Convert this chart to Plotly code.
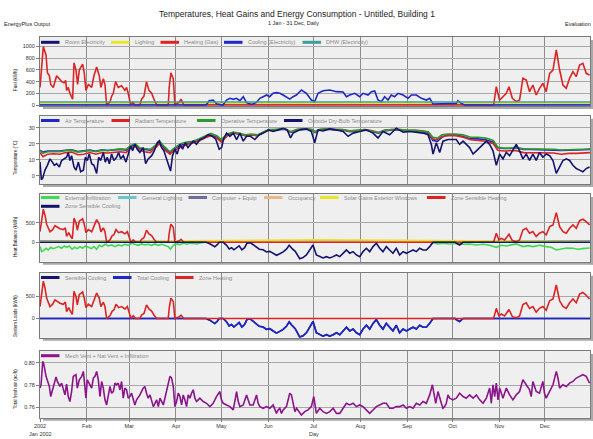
import plotly.graph_objects as go

# ---------------- DATA ----------------
MONTH_START_DAY = [0, 31, 59, 90, 120, 151, 181, 212, 243, 273, 304, 334]
MONTH_LABELS = ["2002", "Feb", "Mar", "Apr", "May", "Jun", "Jul", "Aug", "Sep", "Oct", "Nov", "Dec"]

# (day of year, value) pairs
HEATING_GAS = [(0,300),(2.2,1000),(4,850),(4.9,550),(6.2,500),(7.1,350),(8.8,300),(9.9,400),(11,500),(12.8,450),
               (14.3,400),(15.9,380),(17,420),(17.6,250),(18.7,300),(19.8,200),(20.9,150),(21.6,100),(22.5,720),
               (23.8,600),(24.9,350),(26,600),(28.2,700),(29.3,550),(30.4,250),(32,350),(34.2,300),(35.7,500),
               (37.5,650),(39.2,500),(40.3,300),(41.9,450),(43,350),(44.1,0),(46.3,50),(47.4,150),(48.5,200),
               (50,400),(51.8,300),(54,330),(56.2,250),(57.3,300),(58.4,200),(60,0),(61.3,50),(62.8,0),(66.1,0),
               (67.2,100),(68.8,150),(70.5,400),(72.1,250),(73.9,200),(75.4,100),(77.2,0),(84.9,0),(85.5,300),
               (86.6,550),(88.2,450),(89.3,0),(92.2,50),(93.3,100),(94.4,50),(95.2,0),(300.2,0),(302,313),
               (304.2,80),(306.4,142),(308.6,200),(310.4,313),(312.6,114),(315.2,57),(317.4,85),(319.6,456),
               (321.8,427),(324,228),(326.2,342),(328.4,171),(330.6,285),(332.8,370),(335,228),(337.3,541),
               (339.5,598),(341.7,940),(343.9,598),(346.1,342),(348.3,285),(350.5,456),(352.7,570),(354.9,485),
               (357.1,684),(359.3,712),(361.5,541),(363.7,513)]

COOLING_ELEC = [(0,0),(110,0),(112,74),(114.6,85),(117,17),(121,0),(123.5,85),(125.7,114),(127.9,97),(130,114),
                (132.3,74),(134.5,142),(136.7,40),(140,10),(143,40),(145.5,114),(147.7,142),(150,171),(152,142),
                (154.3,200),(156.5,211),(158.7,200),(160.9,171),(163.1,142),(165.3,100),(167.5,142),(169.7,171),
                (173,256),(176.3,200),(179.6,85),(181.8,57),(184,200),(187.3,245),(191.8,256),(196.2,228),
                (200.6,222),(202.8,142),(205,171),(208.3,200),(211.6,142),(213.8,200),(217.1,171),(219.3,228),
                (221.5,239),(223.7,85),(225.9,57),(228.1,142),(230.3,85),(232.5,171),(234.7,142),(237,200),
                (240.3,171),(243.6,114),(245.8,171),(249.1,171),(252.4,114),(255.7,85),(257.9,114),(260.1,17),
                (275.5,28),(276.6,74),(278.8,28),(281,0),(364,0)]

FLAT_DAY = [0, 31, 59, 90, 120, 151, 181, 212, 243, 273, 304, 334, 364]
ROOM_ELEC = [12, 12, 12, 12, 12, 12, 12, 12, 12, 12, 12, 12, 12]
LIGHTING = [22, 22, 21, 20, 20, 19, 19, 19, 20, 21, 22, 22, 22]
DHW_ELEC = [52, 52, 51, 50, 49, 48, 47, 47, 48, 49, 50, 51, 52]

INDOOR_DAY = [0, 2, 5, 9, 13, 17, 21, 25, 29, 33, 37, 41, 45, 49, 53, 57, 60, 63, 66, 69, 73, 77, 79, 82, 86, 89,
              93, 97, 101, 105, 109, 113, 117, 120, 124, 128, 132, 136, 140, 144, 148, 152, 157, 162, 166, 170,
              175, 180, 182, 185, 190, 195, 200, 205, 210, 215, 220, 224, 228, 233, 238, 243, 248, 253, 257, 260,
              263, 266, 270, 275, 280, 285, 290, 295, 300, 303, 307, 311, 315, 320, 325, 330, 335, 340, 345, 350,
              355, 360, 364]
AIR_TEMP = [16, 14.8, 15.5, 15.6, 15.4, 16, 16.3, 15.2, 15.5, 16, 15.3, 16.2, 15.8, 16, 16.5, 16, 18.5, 19.5, 17,
            16.5, 16, 19, 21, 17.5, 14.5, 17, 19, 20, 21, 22, 24, 25.5, 24, 21.5, 25.5, 26.5, 26, 25, 25.5, 25, 27,
            28.5, 28.5, 29, 27, 28.5, 29, 28.5, 27, 28.5, 29, 28.5, 28.5, 27.5, 28, 28.5, 27.5, 26.5, 28, 28.5,
            28.5, 28, 28, 27.5, 26.5, 22, 21.5, 24, 25.5, 25.5, 24.5, 23, 23, 22.5, 21, 17.5, 17, 17, 17.5, 16.5,
            16.5, 16.3, 16.5, 16.3, 15.8, 16, 16, 16.3, 16.5]
RADIANT_TEMP = [14.5, 12, 13.5, 13.8, 13.5, 14.5, 14.8, 13.2, 13.5, 14.5, 13.5, 14.5, 14.2, 14.5, 15, 14.5, 17.5,
                18.5, 16, 15, 14.5, 18, 20, 16.5, 13.5, 16, 18, 19.5, 20.5, 21.5, 23.5, 25, 23.5, 21, 25, 26.5, 26,
                25, 25.5, 25, 27, 28.5, 28.8, 29.3, 27.5, 28.8, 29.3, 28.8, 27.5, 28.8, 29.3, 28.8, 28.8, 28, 28.3,
                28.8, 28, 27, 28.3, 28.8, 28.8, 28.3, 28.3, 28, 27, 23, 22.5, 24.5, 25, 25, 24, 22.5, 22, 21.5, 20,
                16, 15.5, 15.5, 15.8, 14.5, 14.5, 14.2, 14.5, 14.2, 13.5, 14, 14, 14.2, 14.5]
OPERATIVE_TEMP = [15.8, 14, 15, 15.2, 15, 15.8, 16, 14.8, 15.2, 15.8, 15, 16, 15.8, 16.2, 16.8, 16.5, 19, 20, 17.5,
                  17, 16.5, 19.5, 22, 18.5, 15, 17.5, 20, 21, 21.5, 23, 25, 26.5, 25, 22.5, 26, 27.3, 26.5, 25.5, 26,
                  25.5, 27.5, 28.8, 29, 29.3, 27.3, 28.8, 29.3, 28.8, 27.3, 28.8, 29.3, 28.8, 28.8, 27.8, 28.3,
                  28.8, 27.8, 26.8, 28.3, 28.8, 28.8, 28.3, 28.3, 27.8, 27.5, 24, 23.5, 25.5, 26, 26, 25.5, 24, 24,
                  23.5, 22, 17.8, 17.3, 17.3, 17.8, 16.8, 16.8, 16.6, 16.8, 16.6, 16.1, 16.3, 16.3, 16.5, 16.7]

OUTSIDE_TEMP = [(0,8.6),(0.9,-2.4),(1.8,-1.4),(3.3,3.6),(4.9,6.6),(6.6,10.6),(8.2,8.6),(9.5,6.6),(11,7.6),
                (12.8,5.6),(14.3,9.6),(15.9,10.6),(17.6,11.6),(18.7,14.6),(19.8,9.6),(20.9,12.6),(22.5,5.6),
                (23.8,3.6),(25.4,8.6),(26.9,2.6),(28.7,3.6),(30,11.6),(31.3,9.6),(32.6,13.6),(34.2,7.6),(35.7,6.6),
                (37.5,1.6),(38.8,11.6),(40.1,9.6),(41.9,14.6),(43.2,8.6),(44.5,11.6),(45.9,7.6),(47.4,13.6),
                (48.9,9.6),(50.7,11.6),(52,14.6),(53.4,10.6),(55.1,12.6),(56.9,8.6),(58.4,13.6),(60,18.6),
                (61.3,15.6),(62.8,19.6),(64.4,16.6),(66.1,14.6),(68.3,17.6),(69.9,7.6),(71.6,10.6),(73.9,12.6),
                (75.6,15.6),(77.6,20.6),(78.9,21.6),(80.5,17.6),(82,15.6),(83.3,11.6),(84.9,6.6),(86.4,3),
                (87.7,12.6),(89.3,16.6),(90.8,13.6),(92.6,19.6),(94.4,16.6),(96.1,20.6),(97.9,17.6),(99.6,19.6),
                (101.4,21.6),(103.6,19.6),(105.8,22.6),(108.5,23.6),(111.3,25.6),(114.2,24.6),(116.4,22.6),
                (118.6,16.6),(120.2,17.6),(121.7,23.6),(123.5,26.6),(125.7,24.6),(127.9,26.6),(130.1,22.6),
                (132.3,26.6),(134.5,21.6),(136.7,24.6),(139.3,24.6),(142.2,22.6),(145.1,25.6),(147.7,26.6),
                (151,28.6),(154.3,27.6),(157.6,28.6),(160.9,29.6),(163.6,28.6),(165.8,23.6),(167.5,26.6),
                (170.2,28),(171.9,28.6),(176.3,29.2),(179.6,27.6),(181.8,20.6),(184,28.6),(187.3,28),(191.8,29.2),
                (196.2,28.6),(200.6,27.6),(203.9,24.6),(207.2,26.6),(211.6,27.6),(216,28.6),(220.4,26.6),
                (223.7,23.6),(227,27.6),(231.4,25.6),(235.8,29.6),(240.3,27.2),(244.7,27.6),(249.1,27.2),
                (253.5,26.6),(256.8,25.6),(259,19.6),(260.1,13.6),(262.3,20.6),(264.5,14.6),(266.7,21.6),
                (270,22.6),(275.5,22.6),(277.7,19.6),(280,21.6),(284.3,17.6),(286.6,13.6),(288.8,15.6),
                (293.2,19.6),(295.4,21.6),(297.6,19.6),(299.8,15.6),(302,6.6),(304.2,13.6),(306.4,10.6),
                (308.6,14.6),(310.8,12.6),(313,16.6),(315.2,19.6),(317.4,15.6),(319.6,10.6),(321.8,13.6),
                (324,9.6),(326.2,13.6),(328.4,9.6),(330.6,14.6),(332.8,11.6),(335,13.6),(337.3,12.6),(339.5,9.6),
                (341.7,1.6),(343.9,5.6),(346.1,9.6),(348.3,10.6),(350.5,9.6),(352.7,6.6),(354.9,4.6),(357.1,3.6),
                (359.3,2.6),(361.5,4.6),(363.7,5.6)]

INFILTRATION = [(0,-110),(1.1,-238),(2.2,-212),(4,-153),(5.5,-196),(7.1,-128),(8.8,-162),(10.6,-128),(12.3,-110),
                (14.3,-153),(16.1,-94),(17.6,-128),(19.4,-94),(21.2,-178),(22.9,-128),(24.7,-162),(26.5,-110),
                (28.2,-153),(30,-94),(32,-128),(34,-162),(35.7,-110),(37.5,-178),(39.2,-77),(41,-110),(43,-51),
                (45.2,-94),(47.4,-68),(49.6,-110),(51.8,-68),(54,-94),(56.2,-51),(58.4,-77),(60.6,-25),(62.8,-51),
                (65,-77),(67.2,-42),(69.4,-68),(71.6,-51),(73.9,-77),(76.1,-42),(78.3,-77),(80.5,-51),(82.7,-77),
                (84.9,-110),(86.4,-178),(88.2,-77),(90.4,-42),(92.6,-60),(94.8,-25),(97,-42),(100.3,-25),
                (103.6,-42),(106.9,-8),(110.2,8),(130,12),(160,15),(200,15),(230,12),(257.9,17),(260.1,-8),
                (263.4,-42),(266.7,-25),(271.1,-42),(275.5,-25),(280,-51),(284.3,-42),(288.8,-68),(293.2,-51),
                (297.6,-77),(302,-128),(305.3,-77),(308.6,-94),(311.9,-68),(315.2,-42),(319.6,-110),(322.9,-85),
                (326.2,-110),(330.6,-77),(335,-110),(338.4,-128),(341.7,-196),(345,-162),(348.3,-145),
                (352.7,-153),(356,-178),(359.3,-162),(363.7,-145)]

GEN_LIGHTING = [34, 34, 33, 32, 31, 30, 30, 30, 31, 32, 33, 34, 34]
COMPUTER_EQUIP = [26, 26, 26, 26, 26, 26, 26, 26, 26, 26, 26, 26, 26]
OCCUPANCY = [12, 12, 12, 11, 10, 9, 9, 9, 10, 11, 12, 12, 12]
SOLAR_GAINS = [15, 25, 35, 45, 55, 60, 62, 60, 52, 40, 25, 15, 15]

ZONE_HEATING = [(0,270),(2.2,846),(3.3,692),(4.4,461),(6.6,270),(8.4,323),(9.9,423),(11.5,385),(13.2,346),
                (15.4,323),(16.8,369),(17.6,154),(19,246),(20.3,154),(21.4,92),(22.5,615),(23.8,500),(24.7,308),
                (26,538),(28.2,600),(29.3,461),(30.4,246),(32,323),(34.2,270),(35.7,423),(37.5,577),(39.2,461),
                (40.3,270),(41.9,369),(43,270),(44.1,0),(46.3,62),(47.8,169),(48.9,192),(50.3,323),(52,246),
                (54,270),(56.2,215),(57.8,270),(58.9,154),(60.2,0),(61.7,62),(63.3,0),(66.1,0),(67.2,77),
                (68.8,115),(70.5,308),(72.1,215),(73.9,169),(75.4,77),(77.2,0),(84.9,0),(85.5,231),(86.6,461),
                (88.2,385),(89.3,0),(92.2,38),(93.3,77),(94.4,38),(95.2,0),(300.2,0),(302,230),(303.7,60),
                (305.3,102),(307.5,60),(310.4,204),(312.6,42),(315.2,17),(317.4,60),(319.6,315),(321.8,357),
                (324,230),(326.2,272),(328.4,145),(330.6,230),(332.8,272),(335,187),(337.3,400),(339.5,442),
                (341.7,757),(343.9,400),(346.1,272),(348.3,230),(350.5,357),(352.7,442),(354.9,357),(357.1,552),
                (359.3,587),(361.5,527),(363.7,442)]

ZONE_COOLING = [(0,0),(110,0),(112.4,-38),(114.2,-92),(115.7,-115),(117.3,-62),(118.6,0),(121.3,0),(123.5,-77),
                (125.2,-169),(126.8,-138),(128.3,-192),(130.1,-138),(131.8,-92),(133.6,-192),(135.4,-138),
                (137.1,-15),(139.3,-15),(141.1,-62),(142.9,-115),(145.1,-177),(147.7,-192),(149.9,-246),
                (152.1,-231),(154.3,-292),(156.5,-331),(158.7,-292),(160.9,-246),(163.1,-177),(164.9,-77),
                (166.7,-154),(168.9,-231),(171.9,-420),(174.1,-390),(176.3,-323),(178.5,-196),(180.7,-68),
                (182.9,-323),(185.1,-366),(187.3,-400),(189.6,-366),(191.8,-400),(194,-366),(196.2,-323),
                (198.4,-366),(200.6,-280),(202.8,-196),(205,-280),(207.2,-238),(209.4,-323),(211.6,-366),
                (213.8,-238),(216,-153),(218.2,-238),(220.4,-110),(222.6,-25),(224.8,-153),(227,-238),
                (229.2,-110),(231.4,-196),(233.6,-280),(235.8,-153),(238,-323),(240.3,-238),(242.5,-280),
                (244.7,-238),(246.9,-196),(249.1,-238),(251.3,-153),(253.5,-196),(255.7,-196),(257.9,-110),
                (260.1,0),(275,0),(275.5,-25),(277.7,-68),(280,0),(364,0)]

FRESH_AIR = [(0,0.7773),(0.7,0.7803),(1.8,0.8015),(2.6,0.7985),(4,0.7879),(4.9,0.7833),(6.2,0.7788),(7.1,0.7697),
             (8.8,0.7773),(10.6,0.7873),(11.5,0.7833),(13.2,0.7788),(14.3,0.7818),(15.4,0.7773),(16.5,0.7712),
             (17.6,0.7809),(18.7,0.7697),(19.8,0.7652),(20.9,0.7742),(22,0.7879),(23.8,0.7894),(24.7,0.7773),
             (26,0.7848),(27.6,0.7879),(28.7,0.7924),(29.8,0.7773),(30.4,0.7682),(31.3,0.7848),(32.6,0.7818),
             (34.2,0.7773),(35.3,0.7864),(36.4,0.7879),(37.5,0.7924),(38.6,0.7848),(39.7,0.7697),(40.8,0.7833),
             (41.9,0.7773),(43,0.7667),(44.1,0.7621),(45.2,0.7712),(46.3,0.7788),(47.4,0.7727),(48.5,0.7742),
             (49.6,0.7818),(50.7,0.7803),(51.8,0.7818),(52.9,0.7758),(54,0.7833),(55.1,0.7682),(56.2,0.7773),
             (57.3,0.7758),(58.4,0.7682),(59.5,0.7697),(60.6,0.7727),(61.7,0.7667),(62.8,0.7621),(63.9,0.7667),
             (66.1,0.7712),(68.3,0.7773),(69.4,0.7788),(70.5,0.7727),(71.6,0.7682),(72.8,0.7712),(73.9,0.7667),
             (75,0.7606),(76.1,0.7636),(77.2,0.7667),(78.3,0.7606),(79.4,0.7682),(81.6,0.7621),(83.8,0.7742),
             (84.9,0.7803),(86,0.7879),(87.1,0.7864),(88.2,0.7788),(89.3,0.7606),(90.4,0.7652),(91.5,0.7727),
             (92.6,0.7697),(93.7,0.7621),(94.8,0.7712),(95.9,0.7667),(97,0.7606),(98.1,0.7712),(99.2,0.7682),
             (100.3,0.7727),(101.4,0.7758),(102.5,0.7682),(103.6,0.7652),(104.7,0.7667),(105.8,0.7682),
             (108,0.7652),(110.2,0.7636),(112.4,0.7606),(114.6,0.7636),(116.8,0.7697),(119,0.7742),
             (120.1,0.7667),(121.3,0.7636),(123.5,0.7621),(125.7,0.7606),(127.9,0.7576),(129,0.7667),
             (130.1,0.7742),(131.2,0.7652),(132.3,0.7606),(134.5,0.7621),(136.7,0.7712),(138.9,0.7621),
             (141.1,0.7621),(143.3,0.7712),(144.4,0.7636),(145.5,0.7606),(147.7,0.7591),(149.9,0.7606),
             (152.1,0.7591),(154.3,0.7621),(155.4,0.7576),(156.5,0.7545),(157.6,0.7576),(158.7,0.7591),
             (159.8,0.7545),(160.9,0.7576),(163.1,0.7606),(165.3,0.7727),(166.4,0.7712),(167.5,0.7621),
             (168.7,0.7561),(169.8,0.7591),(173,0.7530),(175.2,0.7561),(177.4,0.7576),(179.6,0.7606),
             (181.2,0.7697),(182.9,0.7545),(185.1,0.7591),(187.3,0.7561),(189.6,0.7545),(191.8,0.7561),
             (194,0.7591),(196.2,0.7545),(198.4,0.7545),(200.6,0.7591),(202.8,0.7636),(205,0.7621),
             (207.2,0.7636),(209.4,0.7606),(211.6,0.7621),(213.8,0.7606),(216,0.7576),(218.2,0.7545),
             (220.4,0.7576),(222.6,0.7606),(224.8,0.7621),(227,0.7636),(229.2,0.7636),(231.4,0.7591),
             (233.6,0.7591),(235.8,0.7606),(238,0.7606),(240.3,0.7621),(242.5,0.7591),(244.7,0.7606),
             (246.9,0.7591),(249.1,0.7636),(251.3,0.7621),(253.5,0.7652),(255.7,0.7636),(257.9,0.7712),
             (259.7,0.7803),(260.5,0.7742),(261.9,0.7636),(263.4,0.7742),(264.5,0.7682),(265.6,0.7636),
             (266.7,0.7591),(267.8,0.7606),(268.9,0.7636),(270,0.7712),(271.1,0.7682),(273.3,0.7667),
             (275.5,0.7682),(277.7,0.7727),(280,0.7697),(282.1,0.7682),(284.3,0.7712),(286.6,0.7682),
             (288.8,0.7712),(291,0.7667),(293.2,0.7636),(295.4,0.7682),(297.6,0.7773),(298.7,0.7636),
             (299.8,0.7803),(300.9,0.7697),(302,0.7818),(303.1,0.7667),(304.2,0.7773),(306.4,0.7682),
             (308.6,0.7773),(310.8,0.7712),(313,0.7667),(315.2,0.7712),(317.4,0.7742),(319.6,0.7848),
             (321.8,0.7803),(324,0.7758),(325.1,0.7697),(326.2,0.7833),(328.4,0.7742),(330.6,0.7727),
             (332.8,0.7833),(333.9,0.7727),(335,0.7682),(337.3,0.7742),(339.5,0.7803),(341.7,0.7924),
             (342.8,0.7864),(343.9,0.7773),(346.1,0.7803),(348.3,0.7788),(350.5,0.7818),(352.7,0.7833),
             (354.9,0.7864),(357.1,0.7879),(359.3,0.7894),(361.5,0.7879),(363.7,0.7818)]

# ---------------- STYLE / LAYOUT ----------------
W, H = 593, 439
ML, MR, MT, MB = 40, 3, 37, 21
PW, PH = W - ML - MR, H - MT - MB
FONT = "Liberation Sans, Arial, sans-serif"


def fx(px):
    return (px - ML) / PW


def fy(py):
    return (H - MB - py) / PH


# panel pixel extents (top, bottom)
PANELS = [(37, 106), (115.7, 184), (194, 261.7), (272.7, 337.7), (351, 417.7)]
RANGES = [[-17, 1162], [-5, 37.4], [-495, 1232], [-434, 1036], [0.7506, 0.8108]]
TICKS = [[0, 200, 400, 600, 800, 1000], [0, 10, 20, 30], [0, 500], [0, 500], [0.76, 0.78, 0.80]]
TICKTEXT = [None, None, None, None, ["0.76", "0.78", "0.80"]]
YTITLES = ["Fuel (kWh)", "Temperature (°C)", "Heat Balance (kWh)", "System Loads (kWh)", "Total fresh air (ac/h)"]
YTITLE_POS = [80, 158, 237, 316, 389]

C_NAVY = "#14146e"
C_RED = "#dc2424"
C_BLUE = "#1e28c8"
C_YELLOW = "#e6e628"
C_TEAL = "#3c9e9a"
C_GREEN = "#2e9a2e"
C_LGREEN = "#3cdc50"
C_LTEAL = "#6cc8c8"
C_GRAYPURP = "#6e6e9a"
C_TAN = "#e8b888"
C_PURPLE = "#8c148c"

fig = go.Figure()


def unzip(pairs):
    return [p[0] for p in pairs], [p[1] for p in pairs]


def add(i, x, y, color, width=1.6):
    suffix = "" if i == 1 else str(i)
    fig.add_trace(go.Scatter(x=x, y=y, mode="lines", line=dict(color=color, width=width),
                             xaxis="x" + suffix, yaxis="y" + suffix, showlegend=False,
                             hoverinfo="skip"))


# Panel 1
add(1, FLAT_DAY, ROOM_ELEC, C_NAVY)
add(1, FLAT_DAY, LIGHTING, C_YELLOW)
add(1, *unzip(HEATING_GAS), C_RED)
add(1, *unzip(COOLING_ELEC), C_BLUE)
add(1, FLAT_DAY, DHW_ELEC, C_TEAL)
# Panel 2
add(2, INDOOR_DAY, AIR_TEMP, C_BLUE)
add(2, INDOOR_DAY, RADIANT_TEMP, C_RED)
add(2, INDOOR_DAY, OPERATIVE_TEMP, C_GREEN)
add(2, *unzip(OUTSIDE_TEMP), C_NAVY)
# Panel 3
add(3, *unzip(INFILTRATION), C_LGREEN)
add(3, FLAT_DAY, GEN_LIGHTING, C_LTEAL)
add(3, FLAT_DAY, COMPUTER_EQUIP, C_GRAYPURP)
add(3, FLAT_DAY, OCCUPANCY, C_TAN)
add(3, FLAT_DAY, SOLAR_GAINS, C_YELLOW)
add(3, *unzip(ZONE_HEATING), C_RED)
add(3, *unzip(ZONE_COOLING), C_NAVY)
# Panel 4
add(4, *unzip(ZONE_COOLING), C_NAVY)
add(4, *unzip(ZONE_COOLING), C_BLUE)
add(4, *unzip(ZONE_HEATING), C_RED)
# Panel 5
add(5, *unzip(FRESH_AIR), C_PURPLE)

layout = dict(
    width=W, height=H, margin=dict(l=ML, r=MR, t=MT, b=MB, pad=0),
    paper_bgcolor="white", plot_bgcolor="#efefef",
    font=dict(family=FONT, size=6, color="#333333"),
    showlegend=False,
)

shapes = []
annotations = []
for k in range(5):
    i = k + 1
    suffix = "" if i == 1 else str(i)
    top, bot = PANELS[k]
    last = (i == 5)
    layout["xaxis" + suffix] = dict(
        domain=[0, 1], anchor="y" + suffix, range=[0, 364],
        tickmode="array", tickvals=MONTH_START_DAY, ticktext=MONTH_LABELS,
        showticklabels=last, ticks="outside" if last else "", ticklen=3, tickcolor="#808080",
        showgrid=True, gridcolor="#8c8c8c", gridwidth=1,
        showline=True, linecolor="#7a7a7a", linewidth=1, mirror=True, zeroline=False,
        tickfont=dict(size=5.5, color="#333333", family=FONT),
        **({} if i == 1 else {"matches": "x"}),
    )
    yd = dict(
        domain=[fy(bot), fy(top)], anchor="x" + suffix, range=RANGES[k],
        tickmode="array", tickvals=TICKS[k], ticks="outside", ticklen=3, tickcolor="#808080",
        showgrid=True, gridcolor="#a8a8a8", gridwidth=1, zeroline=False,
        showline=True, linecolor="#7a7a7a", linewidth=1, mirror=True,
        tickfont=dict(size=5.5, color="#333333", family=FONT),
    )
    if TICKTEXT[k]:
        yd["ticktext"] = TICKTEXT[k]
    layout["yaxis" + suffix] = yd
    # drop shadow
    shapes.append(dict(type="rect", xref="paper", yref="paper", x0=fx(43), x1=fx(593),
                       y0=fy(bot + 3), y1=fy(bot + 0.5), fillcolor="#a9a9a9", line=dict(width=0),
                       layer="below"))
    shapes.append(dict(type="rect", xref="paper", yref="paper", x0=fx(590.5), x1=fx(593),
                       y0=fy(bot + 3), y1=fy(top + 3), fillcolor="#a9a9a9", line=dict(width=0),
                       layer="below"))
    annotations.append(dict(text=YTITLES[k], xref="paper", yref="paper", x=fx(15), y=fy(YTITLE_POS[k]),
                            textangle=-90, showarrow=False, xanchor="center", yanchor="middle",
                            font=dict(size=4.5, color="#111111", family=FONT)))

# manual legends: (label, colour, sample-start px, y px)
LEGENDS = [
    ("Room Electricity", C_NAVY, 41, 42.3), ("Lighting", C_YELLOW, 111, 42.3),
    ("Heating (Gas)", C_RED, 160.5, 42.3), ("Cooling (Electricity)", C_BLUE, 224, 42.3),
    ("DHW (Electricity)", C_TEAL, 302.5, 42.3),
    ("Air Temperature", C_BLUE, 41, 120.5), ("Radiant Temperature", C_RED, 111.5, 120.5),
    ("Operative Temperature", C_GREEN, 197, 120.5), ("Outside Dry-Bulb Temperature", C_NAVY, 284, 120.5),
    ("External Infiltration", C_LGREEN, 41, 197.5), ("General Lighting", C_LTEAL, 118, 197.5),
    ("Computer + Equip", C_GRAYPURP, 188.5, 197.5), ("Occupancy", C_TAN, 264, 197.5),
    ("Solar Gains Exterior Windows", C_YELLOW, 320, 197.5), ("Zone Sensible Heating", C_RED, 427, 197.5),
    ("Zone Sensible Cooling", C_NAVY, 41, 206.3),
    ("Sensible Cooling", C_NAVY, 41, 277.5), ("Total Cooling", C_BLUE, 113, 277.5),
    ("Zone Heating", C_RED, 175, 277.5),
    ("Mech Vent + Nat Vent + Infiltration", C_PURPLE, 41, 355.7),
]
for label, color, x0, y in LEGENDS:
    shapes.append(dict(type="line", xref="paper", yref="paper", x0=fx(x0), x1=fx(x0 + 18.5),
                       y0=fy(y), y1=fy(y), line=dict(color=color, width=3)))
    annotations.append(dict(text=label, xref="paper", yref="paper", x=fx(x0 + 21.5), y=fy(y),
                            showarrow=False, xanchor="left", yanchor="middle",
                            font=dict(size=5.5, color="#8a8a8a", family=FONT)))

# header and footer texts
annotations += [
    dict(text="Temperatures, Heat Gains and Energy Consumption - Untitled, Building 1", xref="paper",
         yref="paper", x=fx(297), y=fy(13.5), showarrow=False, xanchor="center", yanchor="middle",
         font=dict(size=8.5, color="#222222", family=FONT)),
    dict(text="1 Jan - 31 Dec, Daily", xref="paper", yref="paper", x=fx(293), y=fy(23), showarrow=False,
         xanchor="center", yanchor="middle", font=dict(size=5.5, color="#222222", family=FONT)),
    dict(text="EnergyPlus Output", xref="paper", yref="paper", x=fx(2), y=fy(24), showarrow=False,
         xanchor="left", yanchor="middle", font=dict(size=5.5, color="#222222", family=FONT)),
    dict(text="Evaluation", xref="paper", yref="paper", x=fx(563), y=fy(24), showarrow=False,
         xanchor="left", yanchor="middle", font=dict(size=5.5, color="#222222", family=FONT)),
    dict(text="Jan 2002", xref="paper", yref="paper", x=fx(40), y=fy(434.5), showarrow=False,
         xanchor="center", yanchor="middle", font=dict(size=5.5, color="#333333", family=FONT)),
    dict(text="Day", xref="paper", yref="paper", x=fx(314), y=fy(434.5), showarrow=False,
         xanchor="center", yanchor="middle", font=dict(size=5.5, color="#333333", family=FONT)),
]

layout["shapes"] = shapes
layout["annotations"] = annotations
fig.update_layout(**layout)
fig.write_html("out.html", config={"displayModeBar": False, "staticPlot": True},
               post_script="document.body.style.margin='0';document.body.style.padding='0';"
                           "document.documentElement.style.overflow='hidden';")
